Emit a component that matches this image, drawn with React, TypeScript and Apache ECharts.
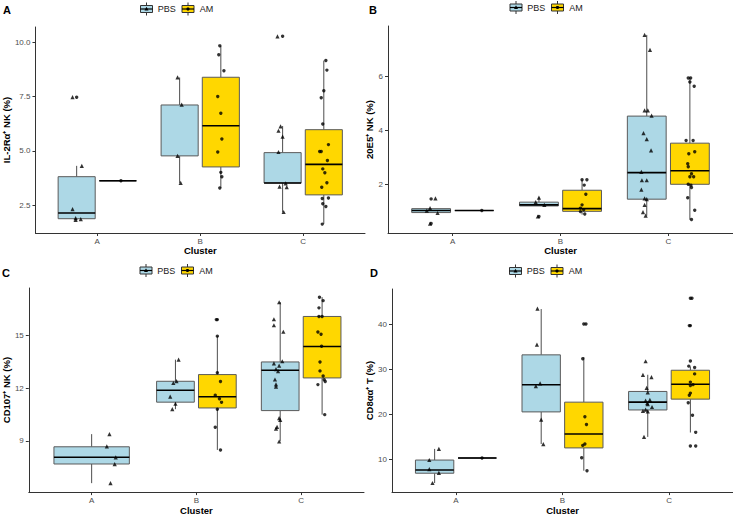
import React, { useEffect, useRef } from 'react';
import * as echarts from 'echarts';

const categories = ['A', 'B', 'C'];
const groups = ['PBS', 'AM'];

// ---------- Panel A : IL-2Ra+ NK (%) ----------
const aTicks = [2.5, 5, 7.5, 10];
const aPbsBox = [
  [1.82, 1.87, 2.13, 3.81, 4.31],
  [3.52, 4.77, null, 7.12, 8.39],
  [2.17, 3.52, 3.52, 4.92, 6.15],
];
const aAmBox = [
  [3.62, 3.62, 3.62, 3.62, 3.62],
  [3.29, 4.26, 6.16, 8.4, 9.85],
  [1.63, 2.97, 4.38, 5.98, 9.17],
];
const aPbsPts = [
  [7.48, 4.31, 2.31, 1.9, 1.82, 1.85],
  [8.39, 7.14, 4.77, 3.52],
  [10.29, 6.13, 5.93, 5.66, 4.95, 3.5, 3.35, 3.33, 2.18],
];
const aPbsJit = [
  [-0.24, -0.15, -0.24, -0.21, -0.21, -0.16],
  [-0.22, -0.18, -0.22, -0.19],
  [-0.25, -0.22, -0.24, -0.2, -0.24, -0.17, -0.23, -0.16, -0.19],
];
const aAmPts = [
  [3.62],
  [9.85, 9.44, 8.7, 7.51, 6.74, 5.55, 4.95, 4.01, 3.81, 3.29],
  [9.17, 8.73, 7.78, 7.45, 6.24, 5.29, 4.97, 4.97, 4.56, 4.17, 3.99, 3.53, 3.32, 2.8, 2.83, 2.56, 2.43, 1.62],
];
const aAmJit = [
  [0.23],
  [0.19, 0.18, 0.23, 0.17, 0.2, 0.21, 0.17, 0.2, 0.21, 0.19],
  [0.22, 0.23, 0.2, 0.175, 0.19, 0.245, 0.16, 0.175, 0.235, 0.19, 0.21, 0.23, 0.18, 0.185, 0.245, 0.19, 0.22, 0.185],
];
const aPbsOut = [[7.48], [], [10.29]];
const aAmOut = [[], [], []];

// ---------- Panel B : 20E5+ NK (%) ----------
const bTicks = [2, 4, 6];
const bPbsBox = [
  [0.94, 0.955, 1.03, 1.1, 1.12],
  [1.2, 1.2, 1.24, 1.34, 1.51],
  [0.84, 1.45, 2.43, 4.52, 7.52],
];
const bAmBox = [
  [1.03, 1.03, 1.03, 1.03, 1.03],
  [0.88, 1.0, 1.1, 1.78, 2.17],
  [0.69, 2.0, 2.5, 3.52, 5.93],
];
const bPbsPts = [
  [1.48, 1.12, 1.03, 0.94, 0.55],
  [1.51, 1.34, 1.24, 0.81],
  [7.52, 6.97, 4.73, 4.73, 4.54, 3.89, 3.67, 3.25, 2.46, 2.15, 2.15, 1.8, 1.48, 1.45, 1.24, 0.97, 0.84],
];
const bPbsJit = [
  [-0.16, -0.21, -0.24, -0.14, -0.21],
  [-0.2, -0.23, -0.15, -0.21],
  [-0.22, -0.17, -0.22, -0.19, -0.155, -0.23, -0.2, -0.16, -0.25, -0.245, -0.2, -0.25, -0.22, -0.2, -0.22, -0.235, -0.21],
];
const bAmPts = [
  [1.03],
  [2.17, 2.17, 1.97, 1.63, 1.24, 1.12, 1.06, 0.99, 0.9],
  [5.93, 5.93, 5.78, 5.62, 3.62, 3.62, 3.2, 3.13, 2.76, 2.65, 2.39, 2.28, 2.28, 2.0, 1.97, 1.88, 1.5, 1.04, 0.7],
];
const bAmJit = [
  [0.27],
  [0.2, 0.245, 0.22, 0.235, 0.2, 0.185, 0.215, 0.185, 0.225],
  [0.185, 0.207, 0.2, 0.24, 0.165, 0.23, 0.245, 0.19, 0.18, 0.185, 0.215, 0.2, 0.235, 0.185, 0.21, 0.215, 0.18, 0.245, 0.215],
];
const bPbsOut = [[1.46, 0.55], [0.81], []];
const bAmOut = [[], [], []];

// ---------- Panel C : CD107+ NK (%) ----------
const cTicks = [9, 12, 15];
const cPbsBox = [
  [6.6, 7.69, 8.07, 8.67, 9.39],
  [10.81, 11.21, 11.89, 12.4, 13.63],
  [8.98, 10.73, 13.03, 13.5, 16.91],
];
const cAmBox = [
  null,
  [8.49, 10.88, 11.52, 12.78, 14.97],
  [10.5, 12.59, 14.38, 16.09, 17.19],
];
const cPbsPts = [
  [9.39, 8.69, 8.07, 7.68, 6.6],
  [13.63, 12.41, 12.3, 11.52, 11.12, 10.81],
  [16.9, 15.93, 15.59, 15.22, 13.54, 13.42, 13.29, 13.09, 12.98, 12.5, 12.22, 12.1, 10.3, 10.2, 9.8, 9.7, 8.97],
];
const cPbsJit = [
  [0.17, 0.145, 0.23, 0.22, 0.18],
  [-0.17, -0.19, -0.22, -0.25, -0.2, -0.23],
  [-0.21, -0.26, -0.26, -0.17, -0.18, -0.26, -0.21, -0.24, -0.22, -0.25, -0.24, -0.24, -0.21, -0.2, -0.23, -0.24, -0.21],
];
const cAmPts = [
  [],
  [15.91, 14.97, 12.88, 12.39, 11.61, 11.4, 11.2, 10.81, 9.78, 8.49],
  [17.18, 16.99, 16.58, 16.09, 16.09, 15.2, 15.08, 14.39, 13.5, 12.99, 12.7, 12.49, 12.39, 12.21, 10.5],
];
const cAmJit = [
  [],
  [0.19, 0.2, 0.2, 0.23, 0.18, 0.22, 0.24, 0.2, 0.18, 0.23],
  [0.175, 0.21, 0.17, 0.17, 0.2, 0.16, 0.19, 0.195, 0.18, 0.18, 0.21, 0.22, 0.23, 0.16, 0.225],
];
const cPbsOut = [[], [], []];
const cAmOut = [[], [15.91], []];

// ---------- Panel D : CD8aa+ T (%) ----------
const dTicks = [10, 20, 30, 40];
const dPbsBox = [
  [4.8, 6.98, 7.69, 9.9, 12.37],
  [13.45, 20.57, 26.6, 33.21, 43.36],
  [15.03, 21.0, 22.73, 25.1, 28.8],
];
const dAmBox = [
  [10.35, 10.35, 10.35, 10.35, 10.35],
  [7.54, 12.59, 15.68, 22.73, 32.72],
  [16.0, 23.4, 26.7, 29.8, 30.6],
];
const dPbsPts = [
  [12.37, 9.91, 7.9, 7.04, 4.82],
  [43.44, 35.46, 26.89, 26.3, 18.85, 13.45],
  [31.79, 28.77, 28.26, 25.88, 24.89, 23.23, 23.08, 22.5, 22.3, 21.65, 21.07, 20.8, 20.7, 15.03],
];
const dPbsJit = [
  [-0.16, -0.25, -0.25, -0.16, -0.22],
  [-0.235, -0.24, -0.21, -0.25, -0.2, -0.18],
  [-0.22, -0.245, -0.165, -0.21, -0.2, -0.18, -0.22, -0.205, -0.2, -0.16, -0.22, -0.245, -0.2, -0.235],
];
const dAmPts = [
  [10.35],
  [40.05, 32.35, 19.49, 17.77, 13.45, 13.15, 10.43, 7.54],
  [45.73, 39.69, 31.85, 30.71, 30.41, 28.99, 27.17, 26.61, 26.4, 24.73, 24.24, 22.58, 19.84, 16.04, 13.02],
];
const dAmJit = [
  [0.245],
  [0.22, 0.19, 0.21, 0.225, 0.21, 0.19, 0.18, 0.23],
  [0.215, 0.19, 0.2, 0.185, 0.24, 0.24, 0.2, 0.225, 0.2, 0.2, 0.19, 0.18, 0.22, 0.25, 0.25],
];
const dPbsOut = [[], [], []];
const dAmOut = [[], [40.05], [45.73, 39.69, 13.02]];

const FILLS = ['#ADD8E6', '#FFD700'];
const FONT = 'Liberation Sans, Arial, Helvetica, sans-serif';

const panels = [
  {
    letter: 'A', yTitle: 'IL-2Rα⁺ NK (%)', yMin: 1.21, yMax: 10.72, ticks: aTicks, dec: 1,
    box: [aPbsBox, aAmBox], pts: [aPbsPts, aAmPts], jit: [aPbsJit, aAmJit], out: [aPbsOut, aAmOut],
    grid: { left: 29, top: 27, width: 336, height: 206 }, nameGap: 14,
    letterPos: [3, 4], legendPos: [140, 9],
  },
  {
    letter: 'B', yTitle: '20E5⁺ NK (%)', yMin: 0.2, yMax: 7.85, ticks: bTicks, dec: 0,
    box: [bPbsBox, bAmBox], pts: [bPbsPts, bAmPts], jit: [bPbsJit, bAmJit], out: [bPbsOut, bAmOut],
    grid: { left: 388, top: 26, width: 345, height: 207 }, nameGap: 9,
    letterPos: [369, 4], legendPos: [509.5, 7.5],
  },
  {
    letter: 'C', yTitle: 'CD107⁺ NK (%)', yMin: 6.09, yMax: 17.71, ticks: cTicks, dec: 0,
    box: [cPbsBox, cAmBox], pts: [cPbsPts, cAmPts], jit: [cPbsJit, cAmJit], out: [cPbsOut, cAmOut],
    grid: { left: 22, top: 288, width: 342, height: 208 }, nameGap: 12,
    letterPos: [2, 267], legendPos: [139.5, 270.5],
  },
  {
    letter: 'D', yTitle: 'CD8αα⁺ T (%)', yMin: 2.8, yMax: 47.8, ticks: dTicks, dec: 0,
    box: [dPbsBox, dAmBox], pts: [dPbsPts, dAmPts], jit: [dPbsJit, dAmJit], out: [dPbsOut, dAmOut],
    grid: { left: 392, top: 289, width: 341, height: 207 }, nameGap: 12.5,
    letterPos: [370, 267], legendPos: [509, 271],
  },
];

function legendGraphic(x0: number, cy: number) {
  const els: any[] = [];
  const glyph = (gx: number, g: number) => {
    const cx = gx + 6.5;
    els.push({ type: 'line', shape: { x1: cx, y1: cy - 6.5, x2: cx, y2: cy + 6.5 }, style: { stroke: '#333', lineWidth: 1 } });
    els.push({ type: 'rect', shape: { x: gx + 0.5, y: cy - 3.5, width: 12, height: 7 }, style: { fill: FILLS[g], stroke: '#333', lineWidth: 1 } });
    els.push({ type: 'line', shape: { x1: gx + 0.5, y1: cy, x2: gx + 12.5, y2: cy }, style: { stroke: '#000', lineWidth: 1.2 } });
    if (g === 0) {
      els.push({ type: 'polygon', shape: { points: [[cx, cy - 2.2], [cx - 2, cy + 1.4], [cx + 2, cy + 1.4]] }, style: { fill: '#000' } });
    } else {
      els.push({ type: 'circle', shape: { cx, cy, r: 1.6 }, style: { fill: '#000' } });
    }
  };
  glyph(x0, 0);
  els.push({ type: 'text', x: x0 + 17.7, y: cy, style: { text: groups[0], font: `9px ${FONT}`, fill: '#222', verticalAlign: 'middle' } });
  glyph(x0 + 41.5, 1);
  els.push({ type: 'text', x: x0 + 59.7, y: cy, style: { text: groups[1], font: `9px ${FONT}`, fill: '#222', verticalAlign: 'middle' } });
  return els;
}

function buildOption() {
  const grid: any[] = [];
  const xAxis: any[] = [];
  const yAxis: any[] = [];
  const series: any[] = [];
  const graphic: any[] = [];

  panels.forEach((p, pi) => {
    grid.push({ ...p.grid, containLabel: false });
    xAxis.push({
      type: 'value', gridIndex: pi, min: 0.4, max: 3.6,
      name: 'Cluster', nameLocation: 'middle', nameGap: 11,
      nameTextStyle: { fontFamily: FONT, fontWeight: 'bold', fontSize: 9.5, color: '#000' },
      axisLine: { show: true, onZero: false, lineStyle: { color: '#333', width: 1 } },
      axisTick: { show: true, length: 3, customValues: [1, 2, 3], lineStyle: { color: '#333' } },
      axisLabel: {
        customValues: [1, 2, 3], margin: 4, fontFamily: FONT, fontSize: 8, color: '#4d4d4d',
        formatter: (v: number) => categories[Math.round(v) - 1] ?? '',
      },
      splitLine: { show: false },
    });
    yAxis.push({
      type: 'value', gridIndex: pi, min: p.yMin, max: p.yMax,
      name: p.yTitle, nameLocation: 'middle', nameGap: p.nameGap, nameRotate: 90,
      nameTextStyle: { fontFamily: FONT, fontWeight: 'bold', fontSize: 9.5, color: '#000' },
      axisLine: { show: true, onZero: false, lineStyle: { color: '#333', width: 1 } },
      axisTick: { show: true, length: 3, customValues: p.ticks, lineStyle: { color: '#333' } },
      axisLabel: {
        customValues: p.ticks, margin: 5, fontFamily: FONT, fontSize: 8, color: '#4d4d4d',
        formatter: (v: number) => v.toFixed(p.dec),
      },
      splitLine: { show: false },
    });

    const boxes: any[] = [];
    const outData: number[][] = [];
    for (let i = 0; i < categories.length; i++) {
      for (let g = 0; g < 2; g++) {
        const stats = p.box[g][i];
        if (!stats) continue;
        const other = p.box[1 - g][i];
        const center = other ? (g === 0 ? -0.2 : 0.2) : 0;
        const hw = other ? 0.18 : 0.36;
        const x = i + 1 + center;
        boxes.push({ x, hw, low: stats[0], q1: stats[1], med: stats[2], q3: stats[3], high: stats[4], fill: FILLS[g] });
        p.out[g][i].forEach((v: number) => outData.push([x, v]));
      }
    }

    series.push({
      type: 'custom', name: `box-${p.letter}`, xAxisIndex: pi, yAxisIndex: pi, z: 2,
      data: boxes.map((b) => [b.x, b.q1]),
      renderItem: (params: any, api: any) => {
        const b = boxes[params.dataIndex];
        const xl = api.coord([b.x - b.hw, b.q1])[0];
        const xr = api.coord([b.x + b.hw, b.q1])[0];
        const xc = api.coord([b.x, b.q1])[0];
        const y = (v: number) => api.coord([b.x, v])[1];
        const children: any[] = [
          { type: 'line', shape: { x1: xc, y1: y(b.high), x2: xc, y2: y(b.q3) }, style: { stroke: '#4d4d4d', lineWidth: 1 } },
          { type: 'line', shape: { x1: xc, y1: y(b.q1), x2: xc, y2: y(b.low) }, style: { stroke: '#4d4d4d', lineWidth: 1 } },
          { type: 'rect', shape: { x: xl, y: y(b.q3), width: xr - xl, height: y(b.q1) - y(b.q3) }, style: { fill: b.fill, stroke: '#5a5a5a', lineWidth: 1 } },
        ];
        if (b.med !== null && b.med !== undefined) {
          children.push({ type: 'line', shape: { x1: xl, y1: y(b.med), x2: xr, y2: y(b.med) }, style: { stroke: '#000', lineWidth: 1.6 } });
        }
        return { type: 'group', children };
      },
    });

    series.push({
      type: 'scatter', name: `out-${p.letter}`, xAxisIndex: pi, yAxisIndex: pi, z: 3,
      symbol: 'circle', symbolSize: 3.4, itemStyle: { color: '#000' },
      data: outData,
    });

    for (let g = 0; g < 2; g++) {
      const data: number[][] = [];
      p.pts[g].forEach((vals: number[], i: number) => {
        vals.forEach((v, k) => data.push([i + 1 + p.jit[g][i][k], v]));
      });
      series.push({
        type: 'scatter', name: groups[g], xAxisIndex: pi, yAxisIndex: pi, z: 4,
        symbol: g === 0 ? 'triangle' : 'circle', symbolSize: g === 0 ? 4.2 : 3.4,
        itemStyle: { color: '#000' },
        data,
      });
    }

    graphic.push({
      type: 'text', x: p.letterPos[0], y: p.letterPos[1],
      style: { text: p.letter, font: `bold 11px ${FONT}`, fill: '#000' },
    });
    graphic.push(...legendGraphic(p.legendPos[0], p.legendPos[1]));
  });

  return {
    animation: false,
    backgroundColor: '#ffffff',
    grid, xAxis, yAxis, series, graphic,
  };
}

export default function App() {
  const ref = useRef<HTMLDivElement>(null);
  useEffect(() => {
    if (!ref.current) return;
    const chart = echarts.init(ref.current, undefined, { renderer: 'svg' });
    chart.setOption(buildOption() as any);
    return () => chart.dispose();
  }, []);
  return (
    <div
      ref={ref}
      style={{ position: 'fixed', left: 0, top: 0, width: 733, height: 516, background: '#fff' }}
    />
  );
}
